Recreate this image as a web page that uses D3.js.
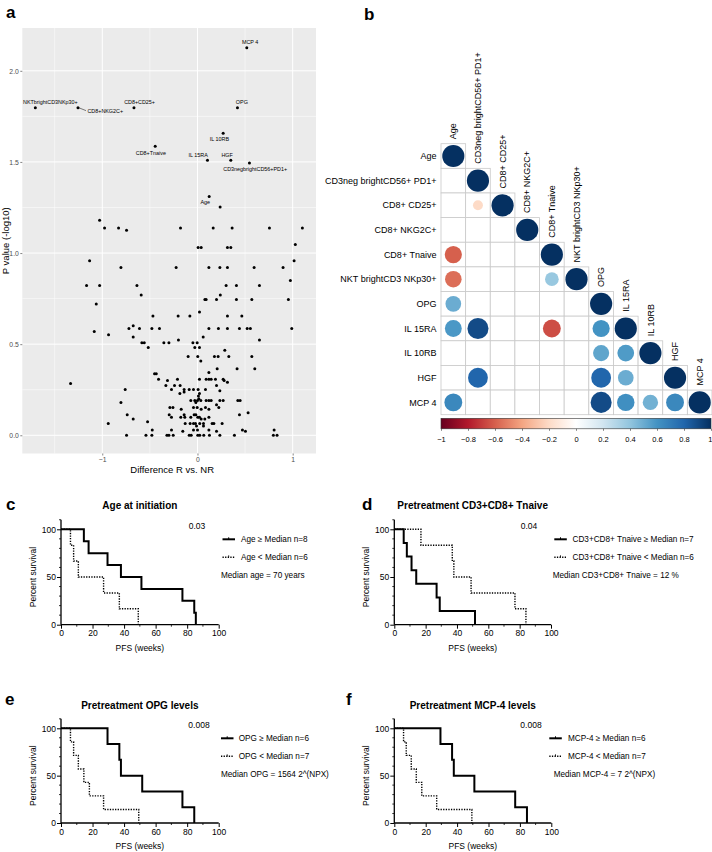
<!DOCTYPE html>
<html><head><meta charset="utf-8">
<script src="https://cdn.jsdelivr.net/npm/d3@7"></script>
<style>
html,body{margin:0;padding:0;background:#fff;}
svg text{font-family:"Liberation Sans",Arial,Helvetica,sans-serif;}
</style></head>
<body>
<svg id="fig" width="712" height="852"></svg>
<script>
// ---------- Panel a data ----------
const volcanoLabels = ["MCP 4","OPG","NKTbrightCD3NKp30+","CD8+NKG2C+","CD8+CD25+","IL 10RB","CD8+Tnaive","IL 15RA","HGF","CD3negbrightCD56+PD1+","Age"];
const volcanoPoints = [
 [0.518,2.126],[0.42,1.797],[-1.703,1.797],[-1.255,1.797],[-0.667,1.797],[0.27,1.658],[-0.444,1.586],[0.105,1.509],[0.35,1.509],[0.546,1.494],[0.123,1.31],
 [0.238,1.253],[-1.028,1.18],
 [-0.976,1.137],[-0.829,1.137],[-0.178,1.137],[0.165,1.137],[0.364,1.137],[0.756,1.137],[1.102,1.137],[-0.745,1.125],
 [0.007,1.031],[0.039,1.031],[0.315,1.031],[0.35,1.031],[1.028,1.047],
 [-1.133,0.958],[1.015,0.958],
 [-0.804,0.921],[-0.224,0.921],[0.12,0.921],[0.235,0.921],[0.315,0.921],[0.595,0.921],[0.899,0.921],[0.976,0.85],
 [-1.165,0.8225],[-1.028,0.8225],[-0.636,0.8225],[0.301,0.8225],[0.409,0.8225],[0.651,0.8225],
 [-0.591,0.77],[0.24,0.77],
 [0.078,0.745],[0.091,0.745],[0.2,0.745],[0.409,0.745],[0.571,0.745],[0.955,0.745],[-1.063,0.72],[0.021,0.676],
 [-0.468,0.655],[-0.203,0.655],[-0.08,0.655],[0.315,0.655],[0.466,0.655],[-0.675,0.601],
 [-0.72,0.586],[-0.609,0.586],[-0.479,0.586],[-0.399,0.586],[0.12,0.586],[0.22,0.586],[0.315,0.586],[0.441,0.586],[0.522,0.586],[0.556,0.586],[0.99,0.586],
 [-1.084,0.57],[-0.934,0.551],[-0.675,0.539],[0.06,0.539],[-0.2,0.523],[0.651,0.523],
 [-0.584,0.508],[-0.559,0.508],[-0.353,0.508],[-0.3,0.508],[-0.048,0.508],[-0.003,0.508],
 [-0.517,0.482],[-0.028,0.482],[0.021,0.482],[0.287,0.467],
 [-0.098,0.432],[0.003,0.432],[0.178,0.432],[0.217,0.432],[0.329,0.432],[0.571,0.432],[0.035,0.407],
 [0.207,0.365],[0.416,0.365],[0.602,0.365],[0.12,0.345],[-0.451,0.337],[-0.433,0.337],
 [-0.409,0.308],[-0.21,0.308],[0.021,0.308],[0.091,0.308],[0.12,0.308],[0.144,0.308],[0.189,0.308],[0.27,0.308],
 [-0.315,0.3],[0.28,0.3],[0.315,0.291],[-1.333,0.284],
 [-0.332,0.273],[-0.241,0.273],[-0.182,0.273],[0.2,0.273],
 [-0.759,0.251],[-0.273,0.251],[-0.14,0.251],[-0.087,0.251],[-0.042,0.251],[0.007,0.251],[0.084,0.251],[0.235,0.245],[-0.14,0.238],
 [-0.185,0.229],[0.021,0.229],[0.01,0.215],[0.014,0.2],
 [-0.07,0.191],[-0.028,0.191],[0.0,0.191],[0.035,0.191],[0.091,0.191],[0.12,0.191],[0.144,0.191],[0.235,0.191],[0.27,0.191],[0.424,0.191],[0.448,0.191],
 [-0.804,0.18],[-0.017,0.18],[0.2,0.167],
 [-0.29,0.152],[-0.258,0.152],[-0.042,0.152],[-0.003,0.152],[0.084,0.152],[0.224,0.152],
 [-0.171,0.143],[0.039,0.143],[0.12,0.143],[0.532,0.123],
 [-0.738,0.112],[-0.297,0.112],[-0.14,0.112],[-0.035,0.112],[-0.017,0.112],[0.441,0.112],
 [-0.273,0.099],[-0.175,0.099],[-0.133,0.099],[-0.07,0.099],[0.003,0.099],[0.021,0.099],[0.12,0.099],
 [-0.675,0.09],[0.039,0.09],[0.077,0.09],[-0.524,0.074],
 [-0.937,0.064],[-0.129,0.064],[-0.077,0.064],[-0.042,0.064],[-0.021,0.064],[0.024,0.064],[0.063,0.064],[0.154,0.064],[0.172,0.064],[0.259,0.064],
 [-0.01,0.051],[0.063,0.051],
 [-0.475,0.029],[-0.273,0.029],[-0.042,0.029],[0.0,0.029],[0.12,0.029],[0.472,0.029],[0.805,0.029],
 [-0.154,0.022],[0.2,0.022],[0.504,0.022],
 [-0.745,0],[-0.541,0],[-0.479,0],[-0.321,0],[-0.3,0],[-0.255,0],[-0.087,0],[-0.066,0],[0.003,0],[0.024,0],[0.066,0],[0.126,0],[0.235,0],[0.388,0],[0.797,0],[0.836,0]
];
const volcanoXTicks = [-1, 0, 1];
const volcanoYTicks = [0, 0.5, 1, 1.5, 2];

// ---------- Panel b data ----------
const corrLabels = ["Age","CD3neg brightCD56+ PD1+","CD8+ CD25+","CD8+ NKG2C+","CD8+ Tnaive","NKT brightCD3 NKp30+","OPG","IL 15RA","IL 10RB","HGF","MCP 4"];
// lower triangle rows; null = blank (not significant)
const corrMatrix = [
 [1],
 [null,1],
 [null,-0.2,1],
 [null,null,null,1],
 [-0.6,null,null,null,1],
 [-0.56,null,null,null,0.38,1],
 [0.5,null,null,null,null,null,1],
 [0.58,0.9,null,null,-0.65,null,0.6,1],
 [null,null,null,null,null,null,0.53,0.57,1],
 [null,0.8,null,null,null,null,0.8,0.5,null,1],
 [0.65,null,null,null,null,null,0.9,0.62,0.48,0.65,1]
];
const colorbarTicks = [-1,-0.8,-0.6,-0.4,-0.2,0,0.2,0.4,0.6,0.8,1];
const rdbuStops = ["#67001F","#B2182B","#D6604D","#F4A582","#FDDBC7","#FFFFFF","#D1E5F0","#92C5DE","#4393C3","#2166AC","#053061"];

// ---------- KM data ----------
const kmXTicks = [0,20,40,60,80,100];
const kmYTicks = [0,50,100];
const cHighT = [0,14.5,17.5,29.5,38,51,77,84.5,85.5];
const cHighS = [100,87.5,75,62.5,50,37.5,25,12.5,0];
const cLowT  = [0,6,8,11,27,37,49];
const cLowS  = [100,83.3,66.7,50,33.3,16.7,0];
const dHighT = [0,6,8,11,14,27,29,51.5];
const dHighS = [100,85.7,71.4,57.1,42.9,28.6,14.3,0];
const dLowT  = [0,17,37,38,49,77,84];
const dLowS  = [100,83.3,66.7,50,33.3,16.7,0];
const eHighT = [0,29.5,37,38,51.5,77,84.5];
const eHighS = [100,83.3,66.7,50,33.3,16.7,0];
const eLowT  = [0,6,8,11,14.5,18,27,49.3];
const eLowS  = [100,85.7,71.4,57.1,42.9,28.6,14.3,0];
const fHighT = [0,29.4,36.8,37.9,51,77,84.5];
const fHighS = [100,83.3,66.7,50,33.3,16.7,0];
const fLowT  = [0,5.9,7.6,10.8,14,17.5,27,49.4];
const fLowS  = [100,85.7,71.4,57.1,42.9,28.6,14.3,0];

const svg = d3.select("#fig");
const FONT = '"Liberation Sans",Arial,Helvetica,sans-serif';

function panelLetter(t,x,y){
  svg.append("text").attr("x",x).attr("y",y).attr("font-size",17).attr("font-weight","bold").attr("fill","#000").text(t);
}

// ================= Panel a =================
(function(){
  const g = svg.append("g");
  const L=22.3, R=316, T=28, B=453.5;
  const x = d3.scaleLinear().domain([-1.84,1.245]).range([L,R]);
  const y = d3.scaleLinear().domain([-0.1,2.235]).range([B,T]);
  g.append("rect").attr("x",L).attr("y",T).attr("width",R-L).attr("height",B-T).attr("fill","#ebebeb");
  const minorX=[-1.5,-0.5,0.5], minorY=[0.25,0.75,1.25,1.75];
  minorX.forEach(v=>g.append("line").attr("x1",x(v)).attr("x2",x(v)).attr("y1",T).attr("y2",B).attr("stroke","#fff").attr("stroke-width",0.5));
  minorY.forEach(v=>g.append("line").attr("y1",y(v)).attr("y2",y(v)).attr("x1",L).attr("x2",R).attr("stroke","#fff").attr("stroke-width",0.5));
  volcanoXTicks.forEach(v=>g.append("line").attr("x1",x(v)).attr("x2",x(v)).attr("y1",T).attr("y2",B).attr("stroke","#fff").attr("stroke-width",1));
  volcanoYTicks.forEach(v=>g.append("line").attr("y1",y(v)).attr("y2",y(v)).attr("x1",L).attr("x2",R).attr("stroke","#fff").attr("stroke-width",1));
  // axes
  const ax = d3.axisBottom(x).tickValues(volcanoXTicks).tickFormat(d3.format("d")).tickSize(2).tickPadding(1.5);
  const ay = d3.axisLeft(y).tickValues(volcanoYTicks).tickFormat(d3.format(".1f")).tickSize(2).tickPadding(1.5);
  const gx = g.append("g").attr("transform",`translate(0,${B})`).call(ax);
  const gy = g.append("g").attr("transform",`translate(${L},0)`).call(ay);
  [gx,gy].forEach(a=>{a.select(".domain").remove();a.selectAll("line").attr("stroke","#333").attr("stroke-width",0.6);
    a.selectAll("text").attr("font-size",6.8).attr("fill","#4d4d4d").attr("font-family",FONT);});
  g.append("text").attr("x",(L+R)/2+3).attr("y",472.5).attr("text-anchor","middle").attr("font-size",9.5).text("Difference R vs. NR");
  g.append("text").attr("transform",`translate(8.5,${(T+B)/2}) rotate(-90)`).attr("text-anchor","middle").attr("font-size",9.5).text("P value (-log10)");
  // points
  g.selectAll("circle.pt").data(volcanoPoints).join("circle").attr("class","pt")
    .attr("cx",d=>x(d[0])).attr("cy",d=>y(d[1])).attr("r",1.5).attr("fill","#000");
  // labels (layout offsets in px)
  const off = [[3.3,-3.7],[4.4,-3.7],[15,-4],[27.3,5],[5.6,-4],[-3.7,8.3],[-4.3,9],[-9.3,-3.3],[-3.7,-3.3],[5.7,8.3],[-4,7.7]];
  volcanoLabels.forEach((lab,i)=>{
    const p = volcanoPoints[i];
    g.append("text").attr("x",x(p[0])+off[i][0]).attr("y",y(p[1])+off[i][1]).attr("text-anchor","middle")
      .attr("font-size",5.4).attr("fill","#000").text(lab);
  });
  const p3 = volcanoPoints[3];
  g.append("line").attr("x1",x(p3[0])+1).attr("y1",y(p3[1])).attr("x2",x(p3[0])+8).attr("y2",y(p3[1])+2.8).attr("stroke","#000").attr("stroke-width",0.5);
})();
panelLetter("a",6,18);

// ================= Panel b =================
(function(){
  const g = svg.append("g");
  const n = corrLabels.length;
  const X0=441, Y0=143.7, W=712-441;
  const band = d3.scaleBand().domain(d3.range(n)).range([0,W]);
  const c = band.bandwidth();
  const col = d3.scaleLinear().domain(d3.range(11).map(i=>-1+i*0.2)).range(rdbuStops).interpolate(d3.interpolateRgb);
  // grid
  for(let i=0;i<n;i++) for(let j=0;j<=i;j++){
    g.append("rect").attr("x",X0+band(j)).attr("y",Y0+band(i)).attr("width",c).attr("height",c)
     .attr("fill","#fff").attr("stroke","#c9c9c9").attr("stroke-width",0.8);
  }
  corrMatrix.forEach((row,i)=>row.forEach((v,j)=>{
    if(v===null) return;
    g.append("circle").attr("cx",X0+band(j)+c/2).attr("cy",Y0+band(i)+c/2)
     .attr("r",0.45*c*Math.sqrt(Math.abs(v))).attr("fill",col(v));
  }));
  // row labels
  corrLabels.forEach((lab,i)=>{
    g.append("text").attr("x",X0-4.5).attr("y",Y0+band(i)+c/2).attr("dy","0.35em").attr("text-anchor","end")
     .attr("font-size",9).attr("fill","#000").text(lab);
    g.append("text").attr("transform",`translate(${X0+band(i)+c/2},${Y0+band(i)-4.5}) rotate(-90)`).attr("dy","0.35em")
     .attr("text-anchor","start").attr("font-size",9).attr("fill","#000").text(lab);
  });
  // colour bar
  const cb = d3.scaleLinear().domain([-1,1]).range([X0,711]);
  const defs = svg.append("defs");
  const grad = defs.append("linearGradient").attr("id","rdbu").attr("x1","0%").attr("x2","100%");
  rdbuStops.forEach((s,i)=>grad.append("stop").attr("offset",(i*10)+"%").attr("stop-color",s));
  const cbY=418.3, cbH=10.5;
  g.append("rect").attr("x",cb(-1)).attr("y",cbY).attr("width",cb(1)-cb(-1)).attr("height",cbH)
   .attr("fill","url(#rdbu)").attr("stroke","#333").attr("stroke-width",0.6);
  const axc = d3.axisBottom(cb).tickValues(colorbarTicks).tickFormat(d=>d===0?"0":d3.format("")(+d.toFixed(1))).tickSize(2).tickPadding(6);
  const gc = g.append("g").attr("transform",`translate(0,${cbY+cbH})`).call(axc);
  gc.select(".domain").remove();
  gc.selectAll("line").attr("stroke","#333").attr("stroke-width",0.6);
  gc.selectAll("text").attr("font-size",7.5).attr("fill","#000").attr("font-family",FONT);
  gc.selectAll(".tick").filter(d=>d===1).select("text").attr("text-anchor","end").attr("x",1);
})();
panelLetter("b",364,20);

// ================= KM panels =================
function km(cfg){
  const g = svg.append("g");
  const x = d3.scaleLinear().domain([0,100]).range([cfg.x0,cfg.x1]);
  const y = d3.scaleLinear().domain([0,100]).range([cfg.yb,cfg.yt]);
  // axes
  g.append("line").attr("x1",x(0)).attr("x2",x(0)).attr("y1",y(0)).attr("y2",y(110)).attr("stroke","#000").attr("stroke-width",1.3);
  g.append("line").attr("x1",x(0)).attr("x2",x(100)).attr("y1",y(0)).attr("y2",y(0)).attr("stroke","#000").attr("stroke-width",1.3);
  const ax = d3.axisBottom(x).tickValues(kmXTicks).tickSize(4).tickPadding(1.5);
  const ay = d3.axisLeft(y).tickValues(kmYTicks).tickSize(4).tickPadding(1);
  const gx = g.append("g").attr("transform",`translate(0,${y(0)})`).call(ax);
  const gy = g.append("g").attr("transform",`translate(${x(0)},0)`).call(ay);
  [gx,gy].forEach(a=>{a.select(".domain").remove();a.selectAll("line").attr("stroke","#000").attr("stroke-width",1);
    a.selectAll("text").attr("font-size",8.5).attr("fill","#000").attr("font-family",FONT);});
  d3.range(10,100,20).forEach(v=>g.append("line").attr("x1",x(v)).attr("x2",x(v)).attr("y1",y(0)).attr("y2",y(0)+2).attr("stroke","#000").attr("stroke-width",0.8));
  [10,20,30,40,60,70,80,90,110].forEach(v=>g.append("line").attr("x1",x(0)-2).attr("x2",x(0)).attr("y1",y(v)).attr("y2",y(v)).attr("stroke","#000").attr("stroke-width",0.8));
  // curves
  const line = d3.line().x(d=>x(d[0])).y(d=>y(d[1])).curve(d3.curveStepAfter);
  const hi = cfg.hT.map((t,i)=>[t,cfg.hS[i]]);
  const lo = cfg.lT.map((t,i)=>[t,cfg.lS[i]]);
  g.append("path").attr("d",line(lo)).attr("fill","none").attr("stroke","#000").attr("stroke-width",1.4).attr("stroke-dasharray","1.3,1.3");
  g.append("path").attr("d",line(hi)).attr("fill","none").attr("stroke","#000").attr("stroke-width",2);
  // titles
  g.append("text").attr("x",(cfg.x0+cfg.x1)/2).attr("y",cfg.titleY).attr("text-anchor","middle").attr("font-size",10).attr("font-weight","bold").text(cfg.title);
  g.append("text").attr("x",(cfg.x0+cfg.x1)/2).attr("y",cfg.yb+26).attr("text-anchor","middle").attr("font-size",8.5).text("PFS (weeks)");
  g.append("text").attr("transform",`translate(${cfg.x0-25},${(cfg.yb+cfg.yt)/2}) rotate(-90)`).attr("text-anchor","middle").attr("font-size",8.5).text("Percent survival");
  g.append("text").attr("x",cfg.pX).attr("y",cfg.yt-0.5).attr("text-anchor","middle").attr("font-size",8.5).text(cfg.p);
  // legend
  const ly1 = cfg.yt+10, ly2 = cfg.yt+28;
  g.append("line").attr("x1",cfg.lx).attr("x2",cfg.lx+12.5).attr("y1",ly1).attr("y2",ly1).attr("stroke","#000").attr("stroke-width",2);
  g.append("line").attr("x1",cfg.lx+6.2).attr("x2",cfg.lx+6.2).attr("y1",ly1-2).attr("y2",ly1).attr("stroke","#000").attr("stroke-width",1);
  g.append("line").attr("x1",cfg.lx).attr("x2",cfg.lx+12.5).attr("y1",ly2).attr("y2",ly2).attr("stroke","#000").attr("stroke-width",1.4).attr("stroke-dasharray","1.3,1.3");
  g.append("line").attr("x1",cfg.lx+6.2).attr("x2",cfg.lx+6.2).attr("y1",ly2-2).attr("y2",ly2).attr("stroke","#000").attr("stroke-width",0.8);
  g.append("text").attr("x",cfg.tx).attr("y",ly1+3).attr("font-size",8.2).text(cfg.leg1);
  g.append("text").attr("x",cfg.tx).attr("y",ly2+3).attr("font-size",8.2).text(cfg.leg2);
  g.append("text").attr("x",cfg.mx).attr("y",ly2+20.5).attr("font-size",8.2).text(cfg.med);
}
km({x0:61,x1:218.7,yt:529.3,yb:624.7,title:"Age at initiation",titleY:509,hT:cHighT,hS:cHighS,lT:cLowT,lS:cLowS,
   p:"0.03",pX:197,lx:222.5,tx:241,mx:221,leg1:"Age \u2265 Median n=8",leg2:"Age < Median n=6",med:"Median age = 70 years"});
km({x0:394.3,x1:551,yt:529.3,yb:624.7,title:"Pretreatment CD3+CD8+ Tnaive",titleY:509,hT:dHighT,hS:dHighS,lT:dLowT,lS:dLowS,
   p:"0.04",pX:529,lx:554.3,tx:572.5,mx:552.7,leg1:"CD3+CD8+ Tnaive \u2265 Median n=7",leg2:"CD3+CD8+ Tnaive < Median n=6",med:"Median CD3+CD8+ Tnaive = 12 %"});
km({x0:61,x1:218.7,yt:728.3,yb:823,title:"Pretreatment OPG levels",titleY:708.5,hT:eHighT,hS:eHighS,lT:eLowT,lS:eLowS,
   p:"0.008",pX:199,lx:221,tx:238.7,mx:221,leg1:"OPG \u2265 Median n=6",leg2:"OPG < Median n=7",med:"Median OPG  = 1564 2^(NPX)"});
km({x0:394.3,x1:551.3,yt:728.3,yb:823,title:"Pretreatment MCP-4 levels",titleY:708.5,hT:fHighT,hS:fHighS,lT:fLowT,lS:fLowS,
   p:"0.008",pX:531,lx:549.3,tx:568,mx:553.7,leg1:"MCP-4 \u2265 Median n=6",leg2:"MCP-4 < Median n=7",med:"Median MCP-4  = 7 2^(NPX)"});
panelLetter("c",6,510);
panelLetter("d",362,510);
panelLetter("e",5,705);
panelLetter("f",346,705);
</script>
</body></html>
